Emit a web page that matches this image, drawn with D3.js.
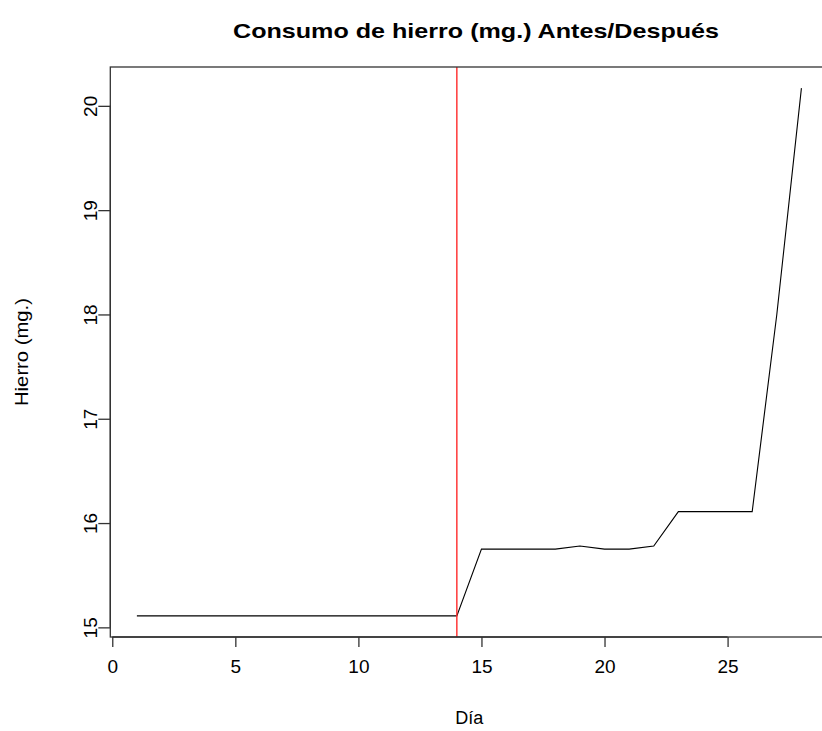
<!DOCTYPE html>
<html>
<head>
<meta charset="utf-8">
<script src="https://cdn.jsdelivr.net/npm/d3@7"></script>
<style>
  html, body { margin: 0; padding: 0; background: #fff; }
  svg { display: block; }
  text { font-family: "Liberation Sans", Arial, Helvetica, sans-serif; }
</style>
</head>
<body>
<div id="chart"></div>
<script>
// ---- data ----
const days = [1,2,3,4,5,6,7,8,9,10,11,12,13,14,15,16,17,18,19,20,21,22,23,24,25,26,27,28];
const hierro = [15.11,15.11,15.11,15.11,15.11,15.11,15.11,15.11,15.11,15.11,15.11,15.11,15.11,15.11,
                15.75,15.75,15.75,15.75,15.78,15.75,15.75,15.78,16.11,16.11,16.11,16.11,18.0,20.17];
const xTicks = [0,5,10,15,20,25];
const yTicks = [15,16,17,18,19,20];
const cutDay = [14];
const titleText = "Consumo de hierro (mg.) Antes/Después";
const xLabel = "Día";
const yLabel = "Hierro (mg.)";

// ---- layout ----
const W = 822, H = 731;
const plot = { left: 110.3, right: 828, top: 67, bottom: 637 };

const svg = d3.select("#chart").append("svg")
  .attr("width", W).attr("height", H);

// R-style 4% padding
function padExt(arr) {
  const [a, b] = d3.extent(arr);
  const p = (b - a) * 0.04;
  return [a - p, b + p];
}

const x = d3.scaleLinear().domain(padExt(days)).range([plot.left, plot.right]);
const y = d3.scaleLinear().domain(padExt(hierro)).range([plot.bottom, plot.top]);

// line
const line = d3.line().x((d, i) => x(days[i])).y(d => y(d));
svg.append("path")
  .datum(hierro)
  .attr("d", line)
  .attr("fill", "none")
  .attr("stroke", "#000")
  .attr("stroke-width", 1.1);

// vertical red line
svg.selectAll("line.cut").data(cutDay).enter().append("line")
  .attr("class", "cut")
  .attr("x1", d => x(d)).attr("x2", d => x(d))
  .attr("y1", plot.top).attr("y2", plot.bottom)
  .attr("stroke", "#ff2a2a")
  .attr("stroke-width", 1.4);

// box
svg.append("rect")
  .attr("x", plot.left).attr("y", plot.top)
  .attr("width", plot.right - plot.left).attr("height", plot.bottom - plot.top)
  .attr("fill", "none").attr("stroke", "#333").attr("stroke-width", 1.3);

// x axis
const xAxis = d3.axisBottom(x).tickValues(xTicks).tickSize(10).tickPadding(13).tickFormat(d3.format("d"));
const gx = svg.append("g").attr("transform", `translate(0,${plot.bottom})`).call(xAxis);
gx.select(".domain")
  .attr("d", `M${x(xTicks[0])},0H${x(xTicks[xTicks.length-1])}`)
  .attr("stroke", "#333").attr("stroke-width", 1.3);
gx.selectAll(".tick line").attr("stroke", "#333").attr("stroke-width", 1.3);
gx.selectAll(".tick text")
  .attr("font-family", "Liberation Sans, Arial, sans-serif")
  .attr("font-size", 19).attr("fill", "#000");

// y axis
const yAxis = d3.axisLeft(y).tickValues(yTicks).tickSize(12).tickFormat(d3.format("d"));
const gy = svg.append("g").attr("transform", `translate(${plot.left},0)`).call(yAxis);
gy.select(".domain")
  .attr("d", `M0,${y(yTicks[0])}V${y(yTicks[yTicks.length-1])}`)
  .attr("stroke", "#333").attr("stroke-width", 1.3);
gy.selectAll(".tick line").attr("stroke", "#333").attr("stroke-width", 1.3);
gy.selectAll(".tick text")
  .attr("font-family", "Liberation Sans, Arial, sans-serif")
  .attr("font-size", 19).attr("fill", "#000")
  .attr("x", 0).attr("dy", null)
  .attr("text-anchor", "middle")
  .attr("transform", "translate(-13,0) rotate(-90)")
  .attr("y", 0);

// title
svg.append("text")
  .attr("x", 476)
  .attr("y", 38)
  .attr("text-anchor", "middle")
  .attr("font-weight", "bold")
  .attr("font-size", 21)
  .attr("textLength", 486)
  .attr("lengthAdjust", "spacingAndGlyphs")
  .text(titleText);

// x label
svg.append("text")
  .attr("x", (plot.left + plot.right) / 2)
  .attr("y", 724)
  .attr("text-anchor", "middle")
  .attr("font-size", 18)
  .text(xLabel);

// y label
svg.append("text")
  .attr("transform", `translate(28,${(plot.top + plot.bottom) / 2}) rotate(-90)`)
  .attr("text-anchor", "middle")
  .attr("font-size", 18)
  .attr("textLength", 108)
  .attr("lengthAdjust", "spacingAndGlyphs")
  .text(yLabel);
</script>
</body>
</html>
